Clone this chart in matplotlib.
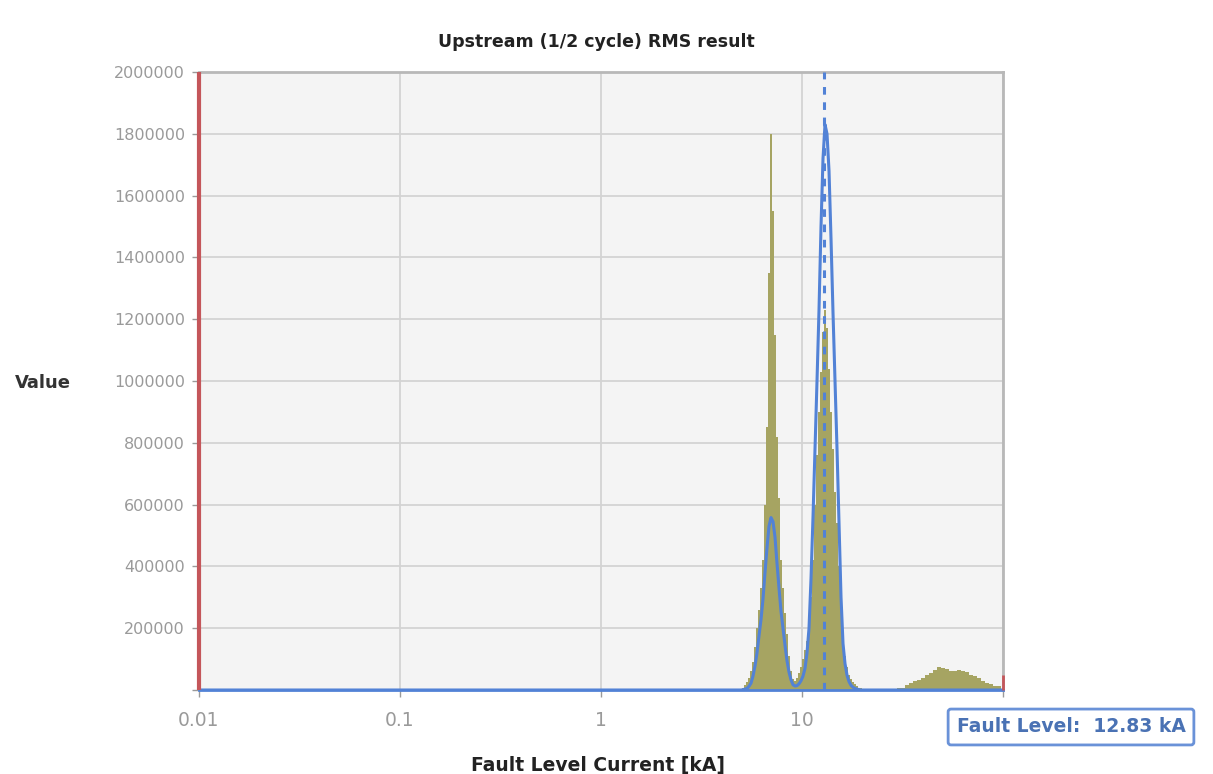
import numpy as np
import matplotlib
matplotlib.use("Agg")
import matplotlib.pyplot as plt
from matplotlib.ticker import FixedLocator, FixedFormatter

# histogram bins (centre current in kA) and counts around the two main peaks
hist_ka = [4.972, 5.087, 5.205, 5.326, 5.449, 5.575, 5.704, 5.837, 5.972, 6.110,
           6.252, 6.397, 6.545, 6.697, 6.852, 7.011, 7.173, 7.339, 7.510, 7.684,
           7.862, 8.044, 8.231, 8.421, 8.617, 8.816, 9.021, 9.230, 9.444, 9.663,
           9.887, 10.116, 10.350, 10.590, 10.836, 11.087, 11.344, 11.607, 11.876, 12.151,
           12.433, 12.721, 13.016, 13.318, 13.627, 13.943, 14.266, 14.597, 14.935, 15.281,
           15.636, 15.998, 16.369, 16.749, 17.137, 17.534, 17.941, 18.357, 18.782, 19.218,
           19.663, 20.119, 20.586, 21.063]
hist_count = [4000, 8000, 15000, 25000, 40000, 60000, 90000, 140000, 200000, 260000,
              330000, 420000, 600000, 850000, 1350000, 1800000, 1550000, 1150000, 820000, 620000,
              420000, 330000, 250000, 180000, 110000, 60000, 35000, 30000, 40000, 55000,
              75000, 100000, 130000, 160000, 200000, 300000, 420000, 600000, 760000, 900000,
              1030000, 1160000, 1230000, 1170000, 1040000, 900000, 780000, 640000, 540000, 400000,
              260000, 170000, 110000, 75000, 50000, 35000, 25000, 18000, 12000, 8000,
              5000, 3000, 2000, 1000]

# small hump at high currents (wider bins)
hump_ka = [29.02, 30.38, 31.81, 33.30, 34.86, 36.50, 38.21, 40.00, 41.88, 43.84,
           45.90, 48.05, 50.30, 52.66, 55.13, 57.72, 60.43, 63.26, 66.23, 69.33,
           72.59, 75.99, 79.56, 83.29, 87.20, 91.29, 95.57]
hump_count = [3000, 5000, 8000, 15000, 22000, 28000, 33000, 40000, 48000, 56000,
              65000, 73000, 72000, 68000, 63000, 62000, 66000, 63000, 57000, 50000,
              44000, 38000, 30000, 24000, 18000, 14000, 12000]

# fitted distribution (blue curve)
fit_ka = [0.01, 4.972, 5.087, 5.205, 5.326, 5.449, 5.575, 5.704, 5.837, 5.972, 6.110,
          6.252, 6.397, 6.545, 6.697, 6.852, 7.011, 7.173, 7.339, 7.510, 7.684,
          7.862, 8.044, 8.231, 8.421, 8.617, 8.816, 9.021, 9.230, 9.444, 9.663,
          9.887, 10.116, 10.350, 10.590, 10.836, 11.087, 11.344, 11.607, 11.876, 12.151,
          12.433, 12.721, 13.016, 13.318, 13.627, 13.943, 14.266, 14.597, 14.935, 15.281,
          15.636, 15.998, 16.369, 16.749, 17.137, 17.534, 17.941, 18.357, 18.782, 19.218,
          19.663, 100.0]
fit_value = [0, 0, 1000, 3000, 5000, 12000, 22000, 45000, 78000, 120000, 175000,
             228000, 295000, 380000, 460000, 530000, 558000, 545000, 495000, 410000, 330000,
             255000, 200000, 145000, 95000, 58000, 33000, 17000, 13000, 14000, 20000,
             30000, 45000, 70000, 120000, 200000, 360000, 560000, 780000, 1000000, 1230000,
             1500000, 1720000, 1830000, 1800000, 1680000, 1460000, 1220000, 1000000, 780000, 540000,
             300000, 150000, 85000, 48000, 27000, 15000, 9000, 5000, 3000, 1000,
             0, 0]

fault_level = 12.83
overflow_count = 50000
min_current = 0.01

x_ticks = [0.01, 0.1, 1, 10, 100]
x_labels = ["0.01", "0.1", "1", "10", ""]
y_ticks = [0, 200000, 400000, 600000, 800000, 1000000, 1200000, 1400000, 1600000, 1800000, 2000000]
y_labels = [""] + [str(v) for v in y_ticks[1:]]

BLUE = "#5282d6"
OLIVE = "#a6a462"
RED = "#c4565a"
GRID = "#d3d3d3"
TICK = "#9a9a9a"

plt.rcParams["font.family"] = ["DejaVu Sans"]

fig = plt.figure(figsize=(12.13, 7.74), dpi=100)
ax = fig.add_axes([199 / 1213, 1 - 690 / 774, (1003 - 199) / 1213, (690 - 72) / 774])
ax.set_facecolor("#f4f4f4")
ax.set_xscale("log")
ax.set_xlim(0.01, 100)
ax.set_ylim(0, 2000000)


def draw_hist(centres, counts):
    c = np.array(centres)
    r = np.sqrt(c[1:] / c[:-1])
    ratio = np.concatenate([r[:1], r])
    left = c / ratio
    right = c * ratio
    ax.bar(left, counts, width=right - left, align="edge", color=OLIVE,
           edgecolor="none", linewidth=0, zorder=2)


draw_hist(hist_ka, hist_count)
draw_hist(hump_ka, hump_count)

ax.plot(fit_ka, fit_value, color=BLUE, linewidth=2.2, zorder=4)
ax.vlines(fault_level, 0, 2000000, colors=BLUE, linestyles=(0, (2.5, 2.5)),
          linewidth=2.2, zorder=5)
ax.vlines(min_current, 0, 2000000, colors=RED, linewidth=3, zorder=6, clip_on=False)
ax.vlines(100, 0, overflow_count, colors=RED, linewidth=2, zorder=6, clip_on=False)

ax.xaxis.set_major_locator(FixedLocator(x_ticks))
ax.xaxis.set_major_formatter(FixedFormatter(x_labels))
ax.xaxis.set_minor_locator(FixedLocator([]))
ax.yaxis.set_major_locator(FixedLocator(y_ticks))
ax.yaxis.set_major_formatter(FixedFormatter(y_labels))

ax.grid(True, color=GRID, linewidth=1.3, zorder=0)
ax.set_axisbelow(True)
ax.tick_params(axis="both", colors=TICK, labelcolor=TICK, length=5, width=1)
ax.tick_params(axis="x", pad=10, labelsize=13.5)
ax.tick_params(axis="y", pad=5, labelsize=11.5)

for side in ["top", "right"]:
    ax.spines[side].set_color("#b8b8b8")
    ax.spines[side].set_linewidth(2)
ax.spines["bottom"].set_color(BLUE)
ax.spines["bottom"].set_linewidth(2)
ax.spines["left"].set_visible(False)

fig.text(596 / 1213, 1 - 42 / 774, "Upstream (1/2 cycle) RMS result", ha="center", va="center",
         fontsize=12.5, fontweight="bold", color="#222222")
fig.text(43 / 1213, 1 - 383 / 774, "Value", ha="center", va="center",
         fontsize=13, fontweight="bold", color="#333333")
fig.text(598 / 1213, 1 - 765 / 774, "Fault Level Current [kA]", ha="center", va="center",
         fontsize=13.5, fontweight="bold", color="#222222")
fig.text(1071 / 1213, 1 - 727 / 774, "Fault Level:  %.2f kA" % fault_level, ha="center", va="center",
         fontsize=13.5, fontweight="bold", color="#4a72b4",
         bbox=dict(boxstyle="round,pad=0.45,rounding_size=0.15", facecolor="white",
                   edgecolor="#6a92d8", linewidth=2))

fig.savefig("out.png", dpi=100)
